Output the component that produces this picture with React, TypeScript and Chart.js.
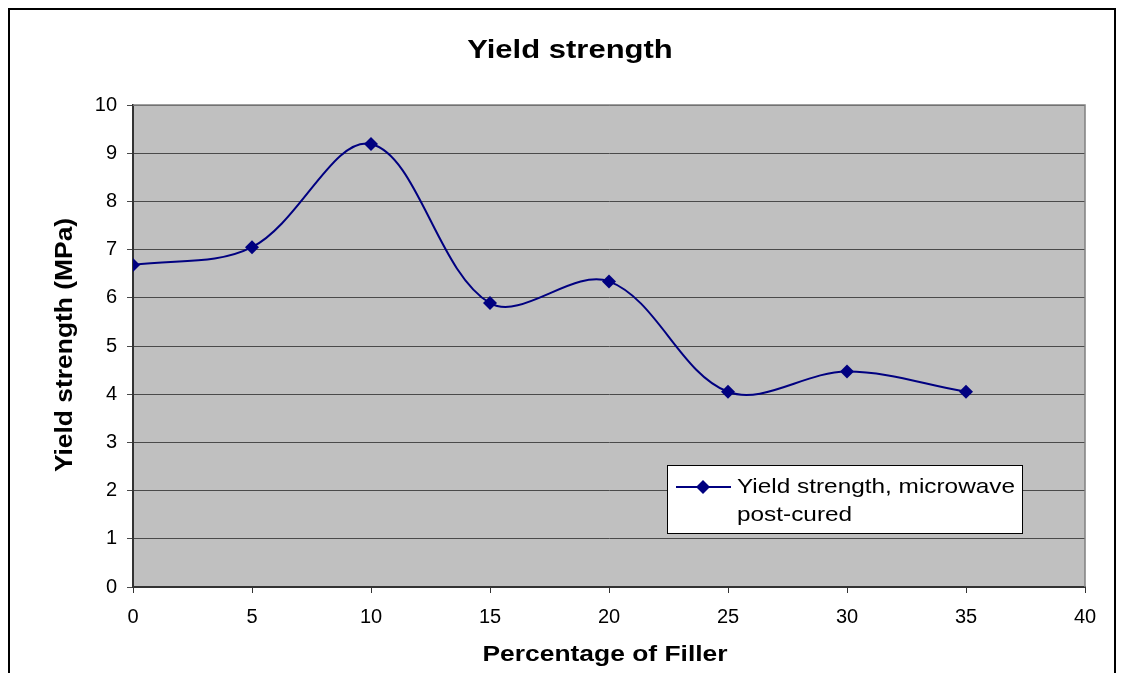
import { useEffect, useRef } from "react";
import { Chart, registerables } from "chart.js";

Chart.register(...registerables);

// Filler content (%) and measured yield strength (MPa)
const fillerPercent = [0, 5, 10, 15, 20, 25, 30, 35];
const yieldStrength = [6.68, 7.05, 9.19, 5.89, 6.34, 4.05, 4.47, 4.05];

const xTickValues = [0, 5, 10, 15, 20, 25, 30, 35, 40];
const yTickValues = [0, 1, 2, 3, 4, 5, 6, 7, 8, 9, 10];

const chartTitle = "Yield strength";
const xAxisTitle = "Percentage of Filler";
const yAxisTitle = "Yield strength (MPa)";
const seriesLabelLines = ["Yield strength, microwave", "post-cured"];

const SERIES_COLOR = "#000080";
const FONT_FAMILY = "'Liberation Sans', Arial, sans-serif";

function drawWideText(
  ctx: CanvasRenderingContext2D,
  text: string,
  x: number,
  y: number,
  font: string,
  stretch: number,
  align: CanvasTextAlign,
  vertical = false
) {
  ctx.save();
  ctx.translate(x, y);
  if (vertical) ctx.rotate(-Math.PI / 2);
  ctx.scale(stretch, 1);
  ctx.font = font;
  ctx.fillStyle = "#000";
  ctx.textAlign = align;
  ctx.textBaseline = "alphabetic";
  ctx.fillText(text, 0, 0);
  ctx.restore();
}

function drawDiamond(ctx: CanvasRenderingContext2D, x: number, y: number, r: number) {
  ctx.beginPath();
  ctx.moveTo(x, y - r);
  ctx.lineTo(x + r, y);
  ctx.lineTo(x, y + r);
  ctx.lineTo(x - r, y);
  ctx.closePath();
  ctx.fill();
}

const sheetPlugin = {
  id: "sheetDecor",
  beforeDraw(chart: Chart) {
    const { ctx, chartArea: a, width, height } = chart;
    ctx.save();
    ctx.fillStyle = "#ffffff";
    ctx.fillRect(0, 0, width, height);
    ctx.fillStyle = "#c0c0c0";
    ctx.fillRect(a.left, a.top, a.right - a.left, a.bottom - a.top);
    ctx.restore();
  },
  afterDraw(chart: Chart) {
    const { ctx, chartArea: a } = chart;
    ctx.save();

    // plot area top/right edges
    ctx.strokeStyle = "#808080";
    ctx.lineWidth = 1.5;
    ctx.beginPath();
    ctx.moveTo(a.left, a.top);
    ctx.lineTo(a.right, a.top);
    ctx.lineTo(a.right, a.bottom);
    ctx.stroke();

    // outer chart frame
    ctx.strokeStyle = "#000";
    ctx.lineWidth = 2;
    ctx.strokeRect(9, 9, 1106, 720);

    // titles
    drawWideText(ctx, chartTitle, 570, 58, `bold 25px ${FONT_FAMILY}`, 1.24, "center");
    drawWideText(ctx, xAxisTitle, 605, 661, `bold 22px ${FONT_FAMILY}`, 1.2, "center");
    drawWideText(ctx, yAxisTitle, 72, 345, `bold 24px ${FONT_FAMILY}`, 1.1, "center", true);

    // legend
    ctx.fillStyle = "#ffffff";
    ctx.fillRect(667, 465, 356, 69);
    ctx.strokeStyle = "#000";
    ctx.lineWidth = 1;
    ctx.strokeRect(667.5, 465.5, 355, 68);
    ctx.strokeStyle = SERIES_COLOR;
    ctx.lineWidth = 2;
    ctx.beginPath();
    ctx.moveTo(676, 487);
    ctx.lineTo(731, 487);
    ctx.stroke();
    ctx.fillStyle = SERIES_COLOR;
    drawDiamond(ctx, 703, 487, 7);
    seriesLabelLines.forEach((line, i) => {
      drawWideText(ctx, line, 737, 493 + i * 28, `21px ${FONT_FAMILY}`, 1.16, "left");
    });

    ctx.restore();
  },
};

export default function App() {
  const canvasRef = useRef<HTMLCanvasElement | null>(null);

  useEffect(() => {
    if (!canvasRef.current) return;
    const chart = new Chart(canvasRef.current, {
      type: "line",
      data: {
        datasets: [
          {
            label: seriesLabelLines.join(" "),
            data: fillerPercent.map((x, i) => ({ x, y: yieldStrength[i] })),
            borderColor: SERIES_COLOR,
            backgroundColor: SERIES_COLOR,
            borderWidth: 2,
            tension: 0.35,
            pointStyle: "rectRot",
            pointRadius: 7,
            pointBorderWidth: 0,
            fill: false,
          },
        ],
      },
      options: {
        animation: false,
        responsive: false,
        devicePixelRatio: 1,
        layout: { padding: { top: 105, right: 37, left: 0, bottom: 0 } },
        plugins: {
          legend: { display: false },
          title: { display: false },
          tooltip: { enabled: false },
        },
        scales: {
          x: {
            type: "linear",
            min: 0,
            max: 40,
            afterBuildTicks: (scale: any) => {
              scale.ticks = xTickValues.map((value) => ({ value }));
            },
            afterFit: (scale: any) => {
              scale.height = 86;
            },
            grid: {
              drawOnChartArea: false,
              drawTicks: true,
              tickLength: 6,
              color: "#333",
            },
            border: { color: "#333", width: 2 },
            ticks: {
              color: "#000",
              padding: 12,
              maxRotation: 0,
              font: { family: FONT_FAMILY, size: 20 },
            },
          },
          y: {
            type: "linear",
            min: 0,
            max: 10,
            afterBuildTicks: (scale: any) => {
              scale.ticks = yTickValues.map((value) => ({ value }));
            },
            afterFit: (scale: any) => {
              scale.width = 133;
            },
            grid: {
              drawTicks: true,
              tickLength: 6,
              color: "#4a4a4a",
            },
            border: { color: "#333", width: 2 },
            ticks: {
              color: "#000",
              padding: 10,
              font: { family: FONT_FAMILY, size: 20 },
            },
          },
        },
      },
      plugins: [sheetPlugin],
    });
    return () => chart.destroy();
  }, []);

  return (
    <div style={{ position: "absolute", left: 0, top: 0, width: 1122, height: 673 }}>
      <canvas ref={canvasRef} width={1122} height={673} style={{ display: "block" }} />
    </div>
  );
}
